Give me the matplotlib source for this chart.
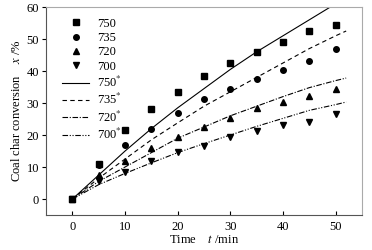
import matplotlib
matplotlib.use("Agg")
import matplotlib.pyplot as plt

plt.rcParams['font.family'] = ['Liberation Serif', 'DejaVu Serif']
plt.rcParams['mathtext.fontset'] = 'stix'

t_exp = [0, 5, 10, 15, 20, 25, 30, 35, 40, 45, 50]
x750 = [0, 11.0, 21.7, 28.0, 33.5, 38.5, 42.5, 46.0, 49.0, 52.5, 54.4]
x735 = [0, 10.5, 17.0, 22.0, 27.0, 31.3, 34.4, 37.5, 40.4, 43.2, 46.8]
x720 = [0, 7.5, 12.0, 16.0, 19.5, 22.4, 25.4, 28.5, 30.4, 32.3, 34.4]
x700 = [0, 5.6, 8.4, 11.8, 14.6, 16.5, 19.3, 21.1, 23.0, 24.2, 26.7]

t_mod = [0, 5, 10, 15, 20, 25, 30, 35, 40, 45, 50, 52]
m750 = [0, 7.5, 15.0, 22.0, 28.5, 34.5, 40.5, 46.0, 51.0, 56.0, 61.0, 63.0]
m735 = [0, 6.5, 12.5, 18.5, 23.8, 29.0, 33.5, 38.0, 42.5, 47.0, 51.0, 52.5]
m720 = [0, 5.5, 10.0, 14.5, 19.0, 22.5, 26.0, 29.0, 32.0, 34.8, 37.0, 37.8]
m700 = [0, 4.5, 8.0, 11.3, 14.5, 17.3, 20.0, 22.7, 25.2, 27.7, 29.5, 30.3]

fig = plt.figure(figsize=(3.72, 2.5), dpi=100)
ax = fig.add_axes([0.124, 0.14, 0.849, 0.832])

ms = 4
ax.plot(t_exp, x750, 's', color='k', ms=ms, label='750', ls='none')
ax.plot(t_exp, x735, 'o', color='k', ms=ms, label='735', ls='none')
ax.plot(t_exp, x720, '^', color='k', ms=ms, label='720', ls='none')
ax.plot(t_exp, x700, 'v', color='k', ms=ms, label='700', ls='none')
lw = 0.8
ax.plot(t_mod, m750, '-', color='k', lw=lw, label='750$^{*}$')
ax.plot(t_mod, m735, '--', color='k', lw=lw, label='735$^{*}$', dashes=(4, 3))
ax.plot(t_mod, m720, '-.', color='k', lw=lw, label='720$^{*}$', dashes=(5, 1.5, 1, 1.5))
ax.plot(t_mod, m700, '-.', color='k', lw=lw, label='700$^{*}$', dashes=(5, 1.5, 1, 1.5, 1, 1.5))

ax.set_xlim(-5, 55)
ax.set_ylim(-5, 60)
ax.set_xticks([0, 10, 20, 30, 40, 50])
ax.set_yticks([0, 10, 20, 30, 40, 50, 60])
ax.tick_params(axis='x', direction='in', length=3, labelsize=9, pad=4)
ax.tick_params(axis='y', direction='out', length=3, labelsize=9, pad=2)
for s in ax.spines.values():
    s.set_color('#555555')
    s.set_linewidth(0.8)
for s in ['top', 'right']:
    ax.spines[s].set_color('#aaaaaa')

ax.set_xlabel('Time    $t$ /min', fontsize=9, labelpad=1)
ax.set_ylabel('Coal char conversion    $x$ /%', fontsize=9, labelpad=3)

leg = ax.legend(loc='upper left', frameon=False, fontsize=9, handlelength=2.2,
                labelspacing=0.18, handletextpad=0.6, borderaxespad=0.0, borderpad=0.0,
                bbox_to_anchor=(0.05, 0.948))

fig.savefig('out.png', dpi=100)
